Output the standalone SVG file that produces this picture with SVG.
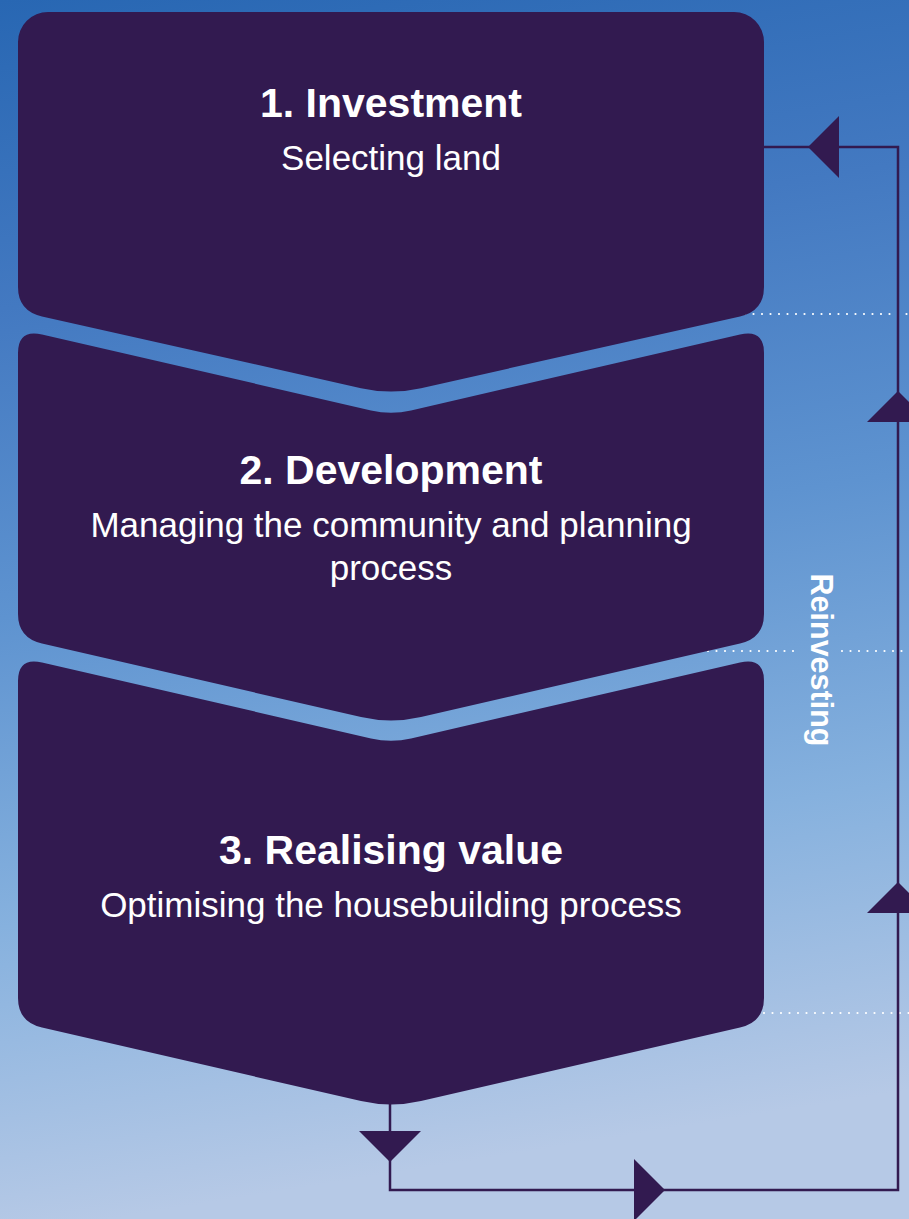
<svg xmlns="http://www.w3.org/2000/svg" width="909" height="1219" viewBox="0 0 909 1219">
  <defs>
    <linearGradient id="sky" x1="0" y1="0" x2="0.12" y2="1">
      <stop offset="0" stop-color="#2867b3"/>
      <stop offset="0.25" stop-color="#4379c1"/>
      <stop offset="0.5" stop-color="#5e93d0"/>
      <stop offset="0.75" stop-color="#86b1de"/>
      <stop offset="1" stop-color="#b6c9e6"/>
    </linearGradient>
    <style>
      .stage { fill: #321a50; }
      .title { font-family: "Liberation Sans", Arial, Helvetica, sans-serif; font-weight: bold; font-size: 41px; fill: #ffffff; text-anchor: middle; }
      .sub { font-family: "Liberation Sans", Arial, Helvetica, sans-serif; font-size: 35px; fill: #ffffff; text-anchor: middle; }
      .side { font-family: "Liberation Sans", Arial, Helvetica, sans-serif; font-weight: bold; font-size: 30.5px; fill: #ffffff; text-anchor: middle; }
      .dots { stroke: #ffffff; stroke-width: 2.2; stroke-linecap: round; stroke-dasharray: 0 8.5; fill: none; }
      .flow { stroke: #321a50; stroke-width: 2.5; fill: none; }
      .head { fill: #321a50; }
    </style>
  </defs>

  <!-- sky background -->
  <rect x="0" y="0" width="909" height="1219" fill="url(#sky)"/>

  <!-- dotted stage dividers -->
  <g id="dividers">
    <line class="dots" x1="745" y1="314" x2="909" y2="314"/>
    <line class="dots" x1="708" y1="651" x2="800" y2="651"/>
    <line class="dots" x1="842" y1="651" x2="909" y2="651"/>
    <line class="dots" x1="764" y1="1013" x2="909" y2="1013"/>
  </g>

  <!-- stage 1 -->
  <g id="node-investment">
    <path class="stage" d="M 48,12 L 734,12 A 30 30 0 0 1 764,42 L 764,287 Q 764,311 740,316.4 L 421,388.2 Q 391,395 361,388.2 L 42,316.4 Q 18,311 18,287 L 18,42 A 30 30 0 0 1 48,12 Z"/>
    <text class="title" x="391" y="117">1. Investment</text>
    <text class="sub" x="391" y="170">Selecting land</text>
  </g>

  <!-- stage 2 -->
  <g id="node-development">
    <path class="stage" d="M 18,353 Q 18,329 42,334.5 L 371,410.4 Q 391,415 411,410.4 L 740,334.5 Q 764,329 764,353 L 764,614 Q 764,638 740,643.5 L 421,717.1 Q 391,724 361,717.1 L 42,643.5 Q 18,638 18,614 Z"/>
    <text class="title" x="391" y="484">2. Development</text>
    <text class="sub" x="391" y="537">Managing the community and planning</text>
    <text class="sub" x="391" y="580">process</text>
  </g>

  <!-- stage 3 -->
  <g id="node-realising">
    <path class="stage" d="M 18,681 Q 18,657 42,662.5 L 371,738.4 Q 391,743 411,738.4 L 740,662.5 Q 764,657 764,681 L 764,998 Q 764,1022 740,1027.5 L 421,1101.1 Q 391,1108 361,1101.1 L 42,1027.5 Q 18,1022 18,998 Z"/>
    <text class="title" x="391" y="864">3. Realising value</text>
    <text class="sub" x="391" y="917">Optimising the housebuilding process</text>
  </g>

  <!-- reinvestment loop back to stage 1 -->
  <g id="connectors">
    <path class="flow" d="M 390,1104 L 390,1190 L 898,1190 L 898,147 L 764,147"/>
    <polygon class="head" points="359,1131 421,1131 390,1162"/>
    <polygon class="head" points="634,1159 634,1221 665,1190"/>
    <polygon class="head" points="867,913 929,913 898,882"/>
    <polygon class="head" points="867,422 929,422 898,391"/>
    <polygon class="head" points="839,116 839,178 808,147"/>
  </g>

  <text class="side" transform="translate(811,660) rotate(90)">Reinvesting</text>
</svg>
